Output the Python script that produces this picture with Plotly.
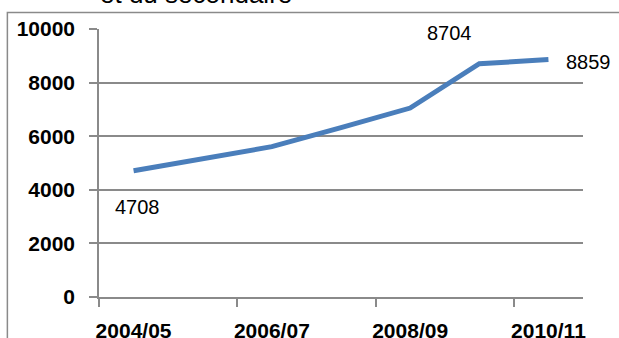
import plotly.graph_objects as go

categories = ["2004/05", "2005/06", "2006/07", "2007/08", "2008/09", "2009/10", "2010/11"]
values = [4708, 5180, 5610, 6320, 7050, 8704, 8859]
label_indices = [0, 5, 6]
tick_label_indices = [0, 2, 4, 6]
y_ticks = [0, 2000, 4000, 6000, 8000, 10000]
y_tick_text = ["0", "2000", "4000", "6000", "8000", "10000"]
title_text = "et du secondaire"

x = list(range(len(categories)))
LINE = "#4a7ebb"
GRID = "#8a8a8a"
FONT = "Liberation Sans, Arial"

fig = go.Figure()
fig.add_trace(go.Scatter(
    x=x, y=values, mode="lines",
    line=dict(color=LINE, width=5),
    hoverinfo="skip", showlegend=False, cliponaxis=False,
))

# data labels
shifts = {0: (4, -36, "center"), 5: (-30, 31, "center"), 6: (16, -2, "left")}
for i in label_indices:
    dx, dy, xa = shifts[i]
    fig.add_annotation(
        x=x[i], y=values[i], text=str(values[i]), showarrow=False,
        xshift=dx, yshift=dy, xanchor=xa, yanchor="middle",
        font=dict(family=FONT, size=20, color="black"),
    )

# title (cut off at top)
fig.add_annotation(
    x=-0.002, y=1.068, xref="paper", yref="paper", text=title_text,
    showarrow=False, xanchor="left", yanchor="bottom",
    font=dict(family=FONT, size=26, color="black"),
)

# outer chart border
fig.add_shape(type="rect", xref="paper", yref="paper",
              x0=-0.1893, y0=-0.3, x1=1.2, y1=1.062,
              line=dict(color=GRID, width=1.5), layer="below")

fig.update_layout(
    width=619, height=338,
    margin=dict(l=99, r=36, t=29, b=41),
    paper_bgcolor="white", plot_bgcolor="white",
    xaxis=dict(
        range=[-0.5, len(categories) - 0.5],
        tickmode="array",
        tickvals=[x[i] for i in tick_label_indices],
        ticktext=[categories[i] for i in tick_label_indices],
        ticks="outside", ticklen=0,
        minor=dict(tickmode="array",
                   tickvals=[x[i] - 0.5 for i in tick_label_indices],
                   ticks="outside", ticklen=8, tickcolor=GRID, tickwidth=1.5,
                   showgrid=False),
        showgrid=False, showline=True, linecolor=GRID, linewidth=1.5,
        tickfont=dict(family=FONT, size=21, color="black", weight="bold"),
        ticklabelstandoff=14, automargin=False,
        zeroline=False, fixedrange=True,
    ),
    yaxis=dict(
        range=[0, 10000], tickmode="array", tickvals=y_ticks, ticktext=y_tick_text,
        ticks="outside", ticklen=8, tickcolor=GRID, tickwidth=1.5,
        showgrid=True, gridcolor=GRID, gridwidth=1.5,
        showline=True, linecolor=GRID, linewidth=1.5,
        tickfont=dict(family=FONT, size=21, color="black", weight="bold"),
        ticklabelstandoff=10, automargin=False,
        zeroline=False, fixedrange=True,
    ),
)

fig.write_html("out.html", config={"displayModeBar": False},
               post_script="document.body.style.margin='0';document.body.style.overflow='hidden';")
